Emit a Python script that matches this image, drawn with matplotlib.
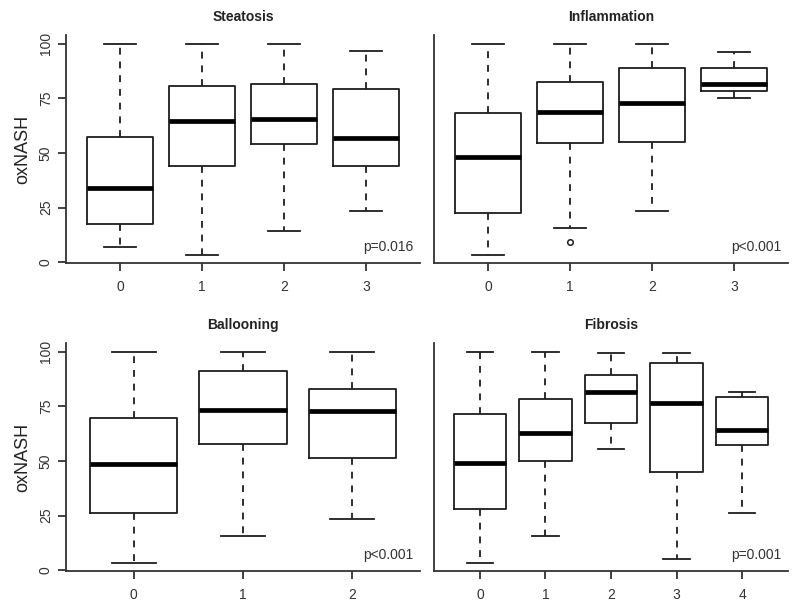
import matplotlib
matplotlib.use("Agg")
import matplotlib.pyplot as plt

plt.rcParams['font.family'] = ['Liberation Sans', 'DejaVu Sans']

# ---- data ----
titles = ["Steatosis", "Inflammation", "Ballooning", "Fibrosis"]
pvalues = ["p=0.016", "p<0.001", "p<0.001", "p=0.001"]

steatosis_labels = ["0", "1", "2", "3"]
steatosis_whislo = [6.8, 3.5, 14.3, 23.6]
steatosis_q1 = [17.5, 44.1, 54.3, 44.1]
steatosis_med = [34.2, 64.7, 65.4, 56.9]
steatosis_q3 = [57.4, 80.6, 81.3, 79.3]
steatosis_whishi = [100, 100, 100, 96.5]
steatosis_fliers = [[], [], [], []]

inflammation_labels = ["0", "1", "2", "3"]
inflammation_whislo = [3.5, 15.7, 23.6, 75.3]
inflammation_q1 = [22.4, 54.6, 55.1, 78.4]
inflammation_med = [48.1, 68.6, 72.6, 81.3]
inflammation_q3 = [68.3, 82.3, 88.9, 88.6]
inflammation_whishi = [100, 100, 100, 96.0]
inflammation_fliers = [[], [9.1], [], []]

ballooning_labels = ["0", "1", "2"]
ballooning_whislo = [3.5, 15.9, 23.5]
ballooning_q1 = [26.4, 57.6, 51.3]
ballooning_med = [48.6, 73.3, 72.8]
ballooning_q3 = [69.8, 91.2, 82.8]
ballooning_whishi = [100, 100, 100]
ballooning_fliers = [[], [], []]

fibrosis_labels = ["0", "1", "2", "3", "4"]
fibrosis_whislo = [3.5, 15.9, 55.6, 5.3, 26.4]
fibrosis_q1 = [28.1, 50.1, 67.5, 45.0, 57.3]
fibrosis_med = [49.2, 62.9, 81.5, 76.3, 64.1]
fibrosis_q3 = [71.5, 78.5, 89.2, 94.7, 79.1]
fibrosis_whishi = [100, 100, 99.2, 99.4, 81.4]
fibrosis_fliers = [[], [], [], [], []]

yticks = [0, 25, 50, 75, 100]
ylabel = "oxNASH"

panels = [
    (steatosis_labels, steatosis_whislo, steatosis_q1, steatosis_med, steatosis_q3, steatosis_whishi, steatosis_fliers),
    (inflammation_labels, inflammation_whislo, inflammation_q1, inflammation_med, inflammation_q3, inflammation_whishi, inflammation_fliers),
    (ballooning_labels, ballooning_whislo, ballooning_q1, ballooning_med, ballooning_q3, ballooning_whishi, ballooning_fliers),
    (fibrosis_labels, fibrosis_whislo, fibrosis_q1, fibrosis_med, fibrosis_q3, fibrosis_whishi, fibrosis_fliers),
]

W, H = 800, 605
fig = plt.figure(figsize=(W / 100, H / 100), dpi=100)

# axes rectangles in pixels: (left, top, right, bottom)
rects = [(66, 35, 420, 263), (434, 35, 788, 263),
         (66, 343, 420, 571), (434, 343, 788, 571)]

ink = '#1e1e1e'
for i, (rect, panel) in enumerate(zip(rects, panels)):
    l, t, r, b = rect
    ax = fig.add_axes([l / W, (H - b) / H, (r - l) / W, (b - t) / H])
    labels, lo, q1, med, q3, hi, fl = panel
    n = len(labels)
    stats = []
    for k in range(n):
        stats.append(dict(whislo=lo[k], q1=q1[k], med=med[k], q3=q3[k],
                          whishi=hi[k], fliers=fl[k], label=labels[k]))
    ax.bxp(stats, positions=list(range(n)), widths=0.8, showfliers=True,
           patch_artist=False,
           boxprops=dict(color=ink, linewidth=1.3),
           medianprops=dict(color='black', linewidth=3.4, solid_capstyle='butt'),
           whiskerprops=dict(color=ink, linewidth=1.3, linestyle=(0, (3.8, 3.8))),
           capprops=dict(color=ink, linewidth=1.3),
           capwidths=0.4,
           flierprops=dict(marker='o', markerfacecolor='none', markeredgecolor=ink,
                           markersize=4, markeredgewidth=1.1))
    ext = 0.04 * n
    ax.set_xlim(-0.5 - ext, n - 0.5 + ext)
    ax.set_ylim(-0.3, 103.9)
    for s in ['top', 'right']:
        ax.spines[s].set_visible(False)
    for s in ['left', 'bottom']:
        ax.spines[s].set_linewidth(1.3)
        ax.spines[s].set_color('#333333')
    ax.set_xticks(list(range(n)))
    ax.set_xticklabels(labels)
    ax.tick_params(axis='x', length=6, width=1.3, pad=6, labelsize=10, colors='#333333')
    if i % 2 == 0:
        ax.set_yticks(yticks)
        ax.set_yticklabels([str(v) for v in yticks], rotation=90, va='center')
        ax.tick_params(axis='y', length=6, width=1.3, pad=3.5, labelsize=10, colors='#333333')
        ax.set_ylabel(ylabel, fontsize=13, color='#222222')
        ax.yaxis.set_label_coords(-43 / (r - l), 0.5)
        ax.yaxis.label.set_va('center')
    else:
        ax.set_yticks([])
    ax.set_title(titles[i], fontsize=10, fontweight='bold', pad=10, color='#222222')
    ax.annotate(pvalues[i], xy=(1 - 7 / (r - l), 16 / (b - t)), xycoords='axes fraction',
                ha='right', va='center', fontsize=10, color='#333333')

fig.savefig("out.png", dpi=100)
